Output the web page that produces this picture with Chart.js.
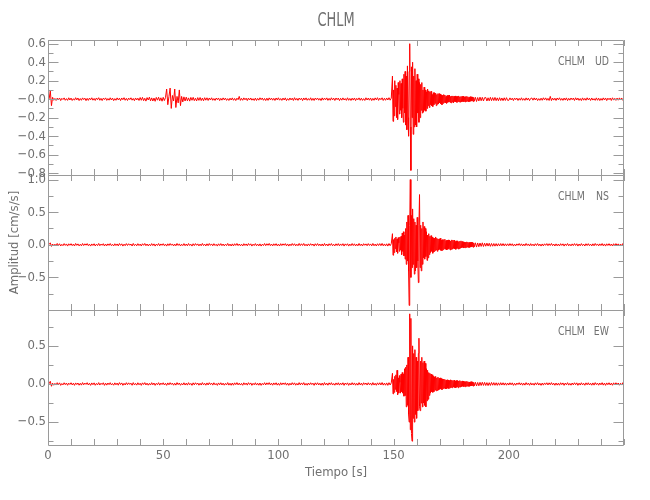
<!DOCTYPE html>
<html>
<head>
<meta charset="utf-8">
<script src="https://cdn.jsdelivr.net/npm/chart.js"></script>
<style>
  body { margin: 0; background: #fff; }
  #wrap { width: 650px; height: 500px; }
</style>
</head>
<body>
<div id="wrap"><canvas id="canvas" width="650" height="500"></canvas></div>
<script>
// estacion y componentes
const estacion = 'CHLM';
const componentes = ['UD', 'NS', 'EW'];

// muestreo por tramos: previo (dt 0.5 s), evento (dt 0.25 s), coda (dt 0.5 s), final (dt 0.5 s)
const inicioPre = 0, dtPre = 0.5;
const inicioEvento = 149.5, dtEvento = 0.25;
const inicioCoda = 185, dtCoda = 0.5;
const inicioPost = 200, dtPost = 0.5;

// UD [cm/s/s]
const udPre = [
  0,.004,.09,-.07,.02,-.012,.008,-.014,.011,-.006,.013,-.015,.009,-.004,.014,-.012,.006,-.013,.015,-.009,
  .012,-.014,.005,-.011,.016,-.008,.013,-.015,.007,-.012,.014,-.005,.011,-.016,.009,-.013,.012,-.007,.015,-.011,
  .008,-.014,.013,-.006,.016,-.012,.009,-.015,.011,-.004,.014,-.013,.007,-.011,.015,-.009,.012,-.016,.006,-.012,
  .014,-.008,.011,-.015,.013,-.006,.016,-.012,.009,-.014,.012,-.005,.015,-.011,.008,-.016,.013,-.009,.011,-.014,
  .018,-.012,.02,-.016,.01,-.021,.017,-.009,.022,-.018,.014,-.02,.012,-.023,.019,-.011,.021,-.017,.015,-.022,
  .02,-.015,.018,.11,-.06,.03,.12,-.1,.04,-.02,.11,-.09,.03,-.04,.1,-.07,.03,-.03,.025,-.02,
  .022,-.018,.014,-.021,.019,-.012,.02,-.016,.011,-.019,.017,-.013,.018,-.015,.012,-.017,.016,-.011,.015,-.014,
  .013,-.009,.015,-.012,.007,-.014,.012,-.006,.013,-.015,.009,-.011,.014,-.008,.012,-.013,.006,-.014,.011,-.009,
  .014,-.012,.008,-.015,.011,-.006,.03,-.013,.009,-.012,.014,-.007,.011,-.015,.012,-.009,.013,-.011,.006,-.014,
  .012,-.014,.009,-.011,.015,-.006,.013,-.012,.008,-.015,.011,-.013,.014,-.007,.012,-.011,.009,-.014,.013,-.008,
  .015,-.011,.007,-.013,.012,-.009,.014,-.015,.006,-.012,.013,-.008,.011,-.014,.016,-.01,.009,-.013,.012,-.006,
  .011,-.015,.013,-.008,.014,-.012,.007,-.011,.015,-.013,.009,-.014,.012,-.006,.013,-.011,.008,-.015,.014,-.01,
  .012,-.007,.014,-.013,.009,-.012,.015,-.008,.011,-.014,.013,-.006,.012,-.015,.01,-.011,.014,-.009,.007,-.013,
  .015,-.012,.008,-.014,.011,-.01,.013,-.015,.009,-.007,.014,-.012,.011,-.013,.006,-.014,.015,-.009,.012,-.011,
  .013,-.015,.009,-.012,.014,-.008,.016,-.013,.011,-.006,.015,-.014,.01,-.012,.013,-.009,.016,-.011,.012
];
const udEvento = [
  .25,-.24,.1,-.18,.2,-.08,.15,-.2,
  .12,-.22,.18,.05,-.16,.2,-.12,.17,
  -.2,.22,-.1,-.25,.27,-.15,.3,-.28,
  .25,-.33,.36,-.2,-.4,.3,.6,-.3,
  -.77,.35,-.2,.4,-.38,.25,-.3,.33,
  -.28,.2,-.3,.27,-.15,.22,-.25,.18,
  -.2,.16,-.12,.18,-.15,.1,-.14,.13,
  -.12,.1,-.13,.08,-.1,.11,-.07,.09,
  -.09,.08,-.06,.085,-.07,.05,-.08,.07,
  -.06,.07,-.045,.065,-.07,.05,-.055,.06,
  -.05,.06,-.04,.055,-.05,.045,-.06,.04,
  -.045,.05,-.035,.045,-.04,.03,-.045,.04,
  -.035,.04,-.03,.045,-.035,.03,-.04,.035,
  -.03,.035,-.04,.03,-.025,.035,-.03,.028,
  -.035,.03,-.025,.035,-.03,.025,-.032,.03,
  -.028,.03,-.025,.032,-.027,.022,-.03,.028,
  -.025,.03,-.022,.026,-.028,.02,-.025,.027,
  -.022,.025,-.02,.024,-.026,.02
];
const udCoda = [
  -.022,.02,-.025,.018,-.02,.022,-.017,.02,-.019,.016,
  .018,-.02,.015,-.018,.02,-.016,.017,-.015,.019,-.016,
  .014,-.017,.016,-.015,.013,-.016,.015,-.014,.016,-.013
];
const udPost = [
  -.012,.014,-.008,.011,-.015,.013,-.006,.012,-.014,.009,-.011,.015,-.012,.007,-.013,.014,-.01,.012,-.015,.008,
  .013,-.011,.014,-.009,.012,-.015,.006,-.013,.011,-.012,.015,-.008,.014,-.012,.009,-.014,.03,-.015,.012,-.01,
  .011,-.014,.013,-.007,.015,-.012,.008,-.013,.012,-.01,.014,-.015,.009,-.011,.013,-.006,.012,-.014,.015,-.009,
  .012,-.013,.007,-.015,.014,-.011,.009,-.012,.015,-.008,.011,-.014,.013,-.01,.006,-.013,.014,-.012,.011,-.015,
  .008,-.012,.014,-.009,.013,-.015,.011,-.006,.012,-.014,.015,-.01,.009,-.013,.012,-.011,.014,-.008,.013,-.012,
  .01
];

// NS [cm/s/s]
const nsPre = [
  0,.006,.03,-.025,.012,-.018,.009,-.015,.02,-.011,.016,-.019,.007,-.014,.018,-.01,.013,-.02,.015,-.008,
  .017,-.013,.011,-.019,.02,-.009,.014,-.017,.008,-.016,.019,-.012,.015,-.007,.018,-.014,.01,-.02,.013,-.011,
  .016,-.018,.009,-.013,.02,-.015,.011,-.008,.017,-.019,.012,-.016,.014,-.01,.019,-.013,.007,-.018,.016,-.012,
  .013,-.017,.019,-.009,.015,-.02,.01,-.014,.018,-.011,.016,-.007,.012,-.019,.02,-.013,.009,-.016,.017,-.012,
  .011,-.019,.016,-.008,.02,-.014,.012,-.017,.009,-.015,.018,-.012,.014,-.02,.01,-.011,.019,-.016,.013,-.009,
  .017,-.014,.01,-.02,.015,-.012,.019,-.008,.013,-.018,.011,-.016,.02,-.01,.014,-.019,.008,-.013,.018,-.015,
  .012,-.016,.019,-.011,.009,-.02,.016,-.013,.018,-.008,.014,-.017,.011,-.015,.02,-.012,.01,-.018,.015,-.014,
  .019,-.009,.013,-.016,.017,-.012,.008,-.02,.015,-.011,.018,-.014,.012,-.017,.009,-.013,.02,-.016,.011,-.019,
  .014,-.018,.016,-.01,.02,-.013,.012,-.015,.009,-.019,.017,-.011,.013,-.016,.019,-.008,.015,-.02,.01,-.012,
  .018,-.015,.011,-.017,.014,-.02,.009,-.012,.019,-.014,.016,-.009,.02,-.013,.012,-.018,.015,-.011,.017,-.016,
  .01,-.019,.017,-.012,.015,-.008,.018,-.016,.013,-.02,.011,-.014,.019,-.01,.016,-.017,.009,-.015,.02,-.013,
  .015,-.011,.02,-.016,.009,-.018,.014,-.013,.017,-.009,.012,-.02,.016,-.012,.018,-.014,.011,-.017,.013,-.019,
  .02,-.013,.012,-.018,.016,-.01,.019,-.015,.008,-.017,.015,-.012,.018,-.016,.013,-.011,.017,-.02,.014,-.009,
  .016,-.02,.011,-.014,.019,-.012,.015,-.018,.01,-.016,.02,-.013,.012,-.019,.017,-.008,.014,-.015,.018,-.011,
  .013,-.017,.02,-.015,.011,-.019,.016,-.012,.018,-.014,.021,-.016,.013,-.018,.015,-.02,.019,-.014,.017
];
const nsEvento = [
  .17,-.16,.08,-.12,.1,-.06,.12,-.11,
  .09,-.13,.11,.03,-.1,.12,-.08,.13,
  -.15,.18,-.1,.2,-.17,.15,-.22,.25,
  -.3,.35,-.25,.45,-.4,-.93,.3,1.0,
  -.5,.45,-.35,.55,-.3,.4,-.45,.35,
  -.4,.3,-.35,.42,-.25,-.58,.3,.77,
  -.35,.3,-.4,.25,-.3,.35,-.2,.28,
  -.22,.25,-.18,.2,-.24,.15,-.2,.17,
  -.15,.13,-.12,.14,-.1,.12,-.13,.1,
  -.11,.1,-.09,.12,-.08,.1,-.1,.09,
  -.08,.09,-.07,.1,-.085,.07,-.09,.08,
  -.075,.08,-.06,.085,-.07,.065,-.08,.07,
  -.07,.075,-.06,.07,-.08,.06,-.07,.075,
  -.065,.07,-.055,.07,-.06,.05,-.07,.06,
  -.055,.06,-.065,.05,-.06,.055,-.05,.06,
  -.045,.05,-.04,.045,-.05,.04,-.045,.04,
  -.04,.045,-.035,.04,-.042,.035,-.04,.038,
  -.035,.04,-.03,.036,-.038,.03
];
const nsCoda = [
  -.032,.03,-.035,.028,-.03,.027,-.025,.03,-.026,.024,
  -.022,.025,-.02,.023,-.024,.02,-.022,.019,-.021,.018,
  -.02,.017,-.018,.019,-.016,.018,-.017,.015,-.016,.015
];
const nsPost = [
  -.015,.018,-.012,.016,-.02,.011,-.017,.014,-.009,.019,-.013,.015,-.018,.012,-.016,.02,-.011,.013,-.019,.017,
  -.014,.01,-.018,.016,-.012,.019,-.015,.011,-.02,.013,-.017,.015,-.009,.018,-.014,.016,-.011,.02,-.013,.012,
  -.019,.014,-.016,.011,-.018,.017,-.01,.015,-.02,.013,-.012,.019,-.016,.009,-.017,.014,-.013,.018,-.011,.016,
  -.02,.012,-.015,.018,-.013,.01,-.019,.016,-.012,.017,-.014,.011,-.018,.015,-.016,.02,-.01,.013,-.017,.014,
  -.012,.019,-.016,.013,-.02,.015,-.011,.017,-.014,.012,-.019,.016,-.013,.018,-.01,.014,-.017,.011,-.015,.019,
  -.014
];

// EW [cm/s/s]
const ewPre = [
  0,.005,.035,-.03,.011,-.016,.008,-.014,.017,-.01,.015,-.018,.006,-.012,.016,-.009,.013,-.017,.011,-.007,
  .016,-.012,.01,-.018,.014,-.008,.013,-.016,.009,-.015,.018,-.011,.012,-.006,.017,-.013,.01,-.018,.014,-.01,
  .015,-.017,.008,-.012,.018,-.014,.01,-.007,.016,-.018,.011,-.015,.013,-.009,.017,-.012,.006,-.016,.015,-.011,
  .012,-.016,.018,-.008,.014,-.018,.009,-.013,.017,-.01,.015,-.006,.011,-.017,.018,-.012,.008,-.015,.016,-.011,
  .01,-.018,.015,-.007,.018,-.013,.011,-.016,.008,-.014,.017,-.011,.013,-.018,.009,-.01,.017,-.015,.012,-.008,
  .016,-.013,.009,-.018,.014,-.011,.017,-.007,.012,-.016,.01,-.015,.018,-.009,.013,-.017,.007,-.012,.016,-.014,
  .011,-.015,.017,-.01,.008,-.018,.015,-.012,.016,-.007,.013,-.016,.01,-.014,.018,-.011,.009,-.016,.014,-.013,
  .017,-.008,.012,-.015,.016,-.011,.007,-.018,.014,-.01,.016,-.013,.011,-.016,.008,-.012,.018,-.015,.01,-.017,
  .013,-.016,.015,-.009,.018,-.012,.011,-.014,.008,-.017,.016,-.01,.012,-.015,.017,-.007,.014,-.018,.009,-.011,
  .016,-.014,.01,-.016,.013,-.018,.008,-.011,.017,-.013,.015,-.008,.018,-.012,.011,-.016,.014,-.01,.016,-.015,
  .009,-.017,.016,-.011,.014,-.007,.016,-.015,.012,-.018,.01,-.013,.017,-.009,.015,-.016,.008,-.014,.018,-.012,
  .014,-.01,.018,-.015,.008,-.016,.013,-.012,.016,-.008,.011,-.018,.015,-.011,.016,-.013,.01,-.016,.012,-.017,
  .018,-.012,.011,-.016,.015,-.009,.017,-.014,.007,-.016,.014,-.011,.016,-.015,.012,-.01,.016,-.018,.013,-.008,
  .015,-.018,.01,-.013,.017,-.011,.014,-.016,.009,-.015,.018,-.012,.011,-.017,.016,-.007,.013,-.014,.016,-.01,
  .012,-.016,.018,-.014,.01,-.017,.015,-.011,.016,-.013,.019,-.015,.012,-.016,.014,-.018,.017,-.013,.015
];
const ewEvento = [
  .14,-.13,.06,-.11,.1,-.07,.12,-.1,
  .18,-.14,.08,-.12,.11,.02,-.12,.13,
  -.1,.15,-.12,.13,-.16,.2,-.15,.22,
  -.3,.25,-.28,.35,-.4,-.5,.92,-.6,
  .86,-.65,-.75,.5,-.45,.4,-.5,.45,
  -.4,.35,-.45,.3,-.35,.4,.6,-.3,
  -.35,.3,-.25,.35,-.3,.28,-.25,.3,
  -.28,.27,-.3,.2,-.22,.18,-.2,.15,
  -.15,.14,-.12,.13,-.1,.12,-.11,.1,
  -.1,.09,-.08,.1,-.09,.08,-.085,.09,
  -.08,.075,-.07,.08,-.065,.07,-.075,.065,
  -.06,.065,-.055,.06,-.065,.05,-.06,.055,
  -.055,.05,-.06,.045,-.05,.055,-.045,.05,
  -.05,.045,-.04,.05,-.045,.04,-.05,.045,
  -.04,.045,-.05,.04,-.038,.045,-.04,.035,
  -.035,.04,-.03,.038,-.035,.03,-.036,.032,
  -.03,.035,-.028,.03,-.032,.026,-.03,.028,
  -.026,.03,-.024,.027,-.028,.022
];
const ewCoda = [
  -.025,.022,-.026,.02,-.024,.022,-.02,.023,-.019,.021,
  -.02,.018,-.021,.017,-.019,.02,-.016,.018,-.017,.016,
  -.018,.015,-.016,.017,-.014,.016,-.015,.014,-.016,.013
];
const ewPost = [
  -.014,.016,-.011,.015,-.018,.01,-.016,.013,-.008,.017,-.012,.014,-.016,.011,-.015,.018,-.01,.012,-.017,.015,
  -.013,.009,-.016,.015,-.011,.017,-.014,.01,-.018,.012,-.015,.014,-.008,.016,-.013,.015,-.01,.018,-.012,.011,
  -.017,.013,-.015,.01,-.016,.016,-.009,.014,-.018,.012,-.011,.017,-.015,.008,-.016,.013,-.012,.016,-.01,.015,
  -.018,.011,-.014,.016,-.012,.009,-.017,.015,-.011,.016,-.013,.01,-.016,.014,-.015,.018,-.009,.012,-.016,.013,
  -.011,.017,-.015,.012,-.018,.014,-.01,.016,-.013,.011,-.017,.015,-.012,.016,-.009,.013,-.016,.01,-.014,.017,
  -.013
];

// ejes
const xTicks = [0, 50, 100, 150, 200];
const xMenores = [0,10,20,30,40,50,60,70,80,90,100,110,120,130,140,150,160,170,180,190,200,210,220,230,240,250];
const udTicks = [-0.8, -0.6, -0.4, -0.2, 0, 0.2, 0.4, 0.6];
const udLabels = ['\u22120.8', '\u22120.6', '\u22120.4', '\u22120.2', '\u22120.0', '0.2', '0.4', '0.6'];
const udMenores = [-0.7, -0.5, -0.3, -0.1, 0.1, 0.3, 0.5];
const nsTicks = [-0.5, 0, 0.5, 1.0];
const nsLabels = ['\u22120.5', '0.0', '0.5', '1.0'];
const nsMenores = [-0.75, -0.25, 0.25, 0.75];
const ewTicks = [-0.5, 0, 0.5];
const ewLabels = ['\u22120.5', '0.0', '0.5'];
const ewMenores = [-0.75, -0.25, 0.25, 0.75];

const fuente = "'DejaVu Sans Condensed', 'Liberation Sans Narrow', 'DejaVu Sans', sans-serif";
const gris = '#707070';
const grisLinea = '#9a9a9a';

function serie(pre, evento, coda, post) {
  let pts = [];
  pre.forEach((v, i) => pts.push({x: inicioPre + i * dtPre, y: v}));
  evento.forEach((v, i) => pts.push({x: inicioEvento + i * dtEvento, y: v}));
  coda.forEach((v, i) => pts.push({x: inicioCoda + i * dtCoda, y: v}));
  post.forEach((v, i) => pts.push({x: inicioPost + i * dtPost, y: v}));
  return pts;
}

const canales = [
  {id: 'yUD', comp: 'UD', mayores: udTicks, rotulos: udLabels, menores: udMenores},
  {id: 'yNS', comp: 'NS', mayores: nsTicks, rotulos: nsLabels, menores: nsMenores},
  {id: 'yEW', comp: 'EW', mayores: ewTicks, rotulos: ewLabels, menores: ewMenores}
];

// texto estrecho (escala horizontal)
function textoEstrecho(ctx, txt, x, y, font, align, sx) {
  ctx.save();
  ctx.translate(x, y);
  ctx.scale(sx, 1);
  ctx.font = font;
  ctx.textAlign = align;
  ctx.textBaseline = 'middle';
  ctx.fillText(txt, 0, 0);
  ctx.restore();
}

// marcos, marcas hacia dentro, rotulos de ejes y de estacion, titulo
const marcos = {
  id: 'marcos',
  afterDatasetsDraw(chart) {
    const ctx = chart.ctx, a = chart.chartArea, sx = chart.scales.x;
    ctx.save();
    ctx.strokeStyle = grisLinea;
    ctx.lineWidth = 1;
    ctx.fillStyle = gris;
    canales.forEach(c => {
      const s = chart.scales[c.id];
      const top = Math.round(s.top), bot = Math.round(s.bottom);
      const l = Math.round(a.left) + 0.5, r = Math.round(a.right) - 0.5;
      ctx.beginPath();
      ctx.rect(l, top + 0.5, r - l, bot - top);
      xMenores.forEach(t => {
        const px = Math.round(sx.getPixelForValue(t)) + 0.5;
        ctx.moveTo(px, bot); ctx.lineTo(px, bot - 6);
        ctx.moveTo(px, top); ctx.lineTo(px, top + 6);
      });
      c.mayores.forEach(v => {
        const py = Math.round(s.getPixelForValue(v)) + 0.5;
        ctx.moveTo(l, py); ctx.lineTo(l + 10, py);
        ctx.moveTo(r, py); ctx.lineTo(r - 10, py);
      });
      c.menores.forEach(v => {
        const py = Math.round(s.getPixelForValue(v)) + 0.5;
        ctx.moveTo(l, py); ctx.lineTo(l + 5, py);
        ctx.moveTo(r, py); ctx.lineTo(r - 5, py);
      });
      ctx.stroke();

      ctx.font = '13px ' + fuente;
      ctx.textAlign = 'right';
      ctx.textBaseline = 'middle';
      c.mayores.forEach((v, i) => {
        ctx.fillText(c.rotulos[i], a.left - 2, s.getPixelForValue(v));
      });

      textoEstrecho(ctx, estacion, a.right - 66, top + 22, '13px ' + fuente, 'left', 0.8);
      textoEstrecho(ctx, c.comp, a.right - 15, top + 22, '13px ' + fuente, 'right', 0.8);
    });
    textoEstrecho(ctx, estacion, (a.left + a.right) / 2, 21, '20px ' + fuente, 'center', 0.72);
    ctx.restore();
  }
};

function ejeY(min, max, peso, titulo) {
  return {
    type: 'linear',
    position: 'left',
    stack: 'canales',
    stackWeight: 1,
    weight: peso,
    min: min,
    max: max,
    afterFit: s => { s.width = 48; },
    grid: {display: false, drawTicks: false},
    border: {display: false},
    ticks: {display: false},
    title: {
      display: !!titulo,
      text: titulo || '',
      color: gris,
      font: {family: fuente, size: 13},
      padding: {top: 7, bottom: 0}
    }
  };
}

const datos = [
  serie(udPre, udEvento, udCoda, udPost),
  serie(nsPre, nsEvento, nsCoda, nsPost),
  serie(ewPre, ewEvento, ewCoda, ewPost)
];

new Chart(document.getElementById('canvas'), {
  type: 'line',
  data: {
    datasets: canales.map((c, i) => ({
      label: estacion + ' ' + c.comp,
      data: datos[i],
      yAxisID: c.id,
      borderColor: 'rgb(255,0,0)',
      borderWidth: 1,
      pointRadius: 0,
      tension: 0,
      fill: false
    }))
  },
  options: {
    responsive: false,
    animation: false,
    events: [],
    parsing: false,
    layout: {padding: {top: 40, right: 26, left: 0, bottom: 0}},
    plugins: {legend: {display: false}, tooltip: {enabled: false}, title: {display: false}},
    scales: {
      x: {
        type: 'linear',
        position: 'bottom',
        min: 0,
        max: 250,
        afterBuildTicks: s => { s.ticks = xTicks.map(v => ({value: v})); },
        afterFit: s => { s.height = 55; },
        grid: {display: false, drawTicks: false},
        border: {display: false},
        ticks: {autoSkip: false, maxRotation: 0, padding: 3, color: gris, font: {family: fuente, size: 13},
                callback: v => String(v)},
        title: {display: true, text: 'Tiempo [s]', color: gris, font: {family: fuente, size: 13},
                padding: {top: 0, bottom: 20}}
      },
      yEW: ejeY(-0.8, 0.97, 1, null),
      yNS: ejeY(-1.0, 1.07, 2, 'Amplitud [cm/s/s]'),
      yUD: ejeY(-0.82, 0.64, 3, null)
    }
  },
  plugins: [marcos]
});
</script>
</body>
</html>
